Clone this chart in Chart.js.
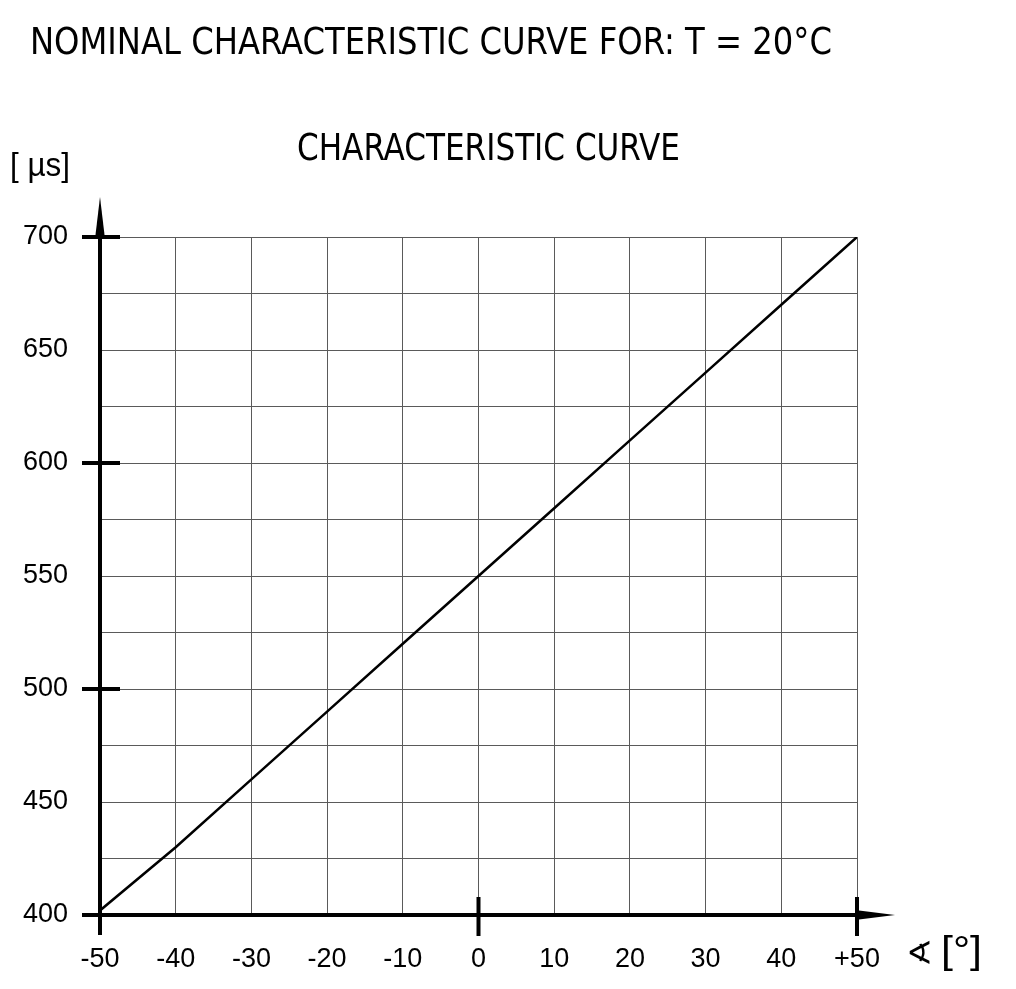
<!DOCTYPE html>
<html lang="en">
<head>
  <meta charset="UTF-8">
  <title>Nominal characteristic curve</title>
  <script src="https://cdn.jsdelivr.net/npm/chart.js"></script>
  <style>
    body { margin: 0; background: #fff; }
    canvas { display: block; }
  </style>
</head>
<body>
  <canvas id="grafico" width="1016" height="989"></canvas>

  <script>
    // angle [°] -> time [µs]
    const angles = [-50, -40, -30, -20, -10, 0, 10, 20, 30, 40, 50];
    const times  = [402, 430, 460, 490, 520, 550, 580, 610, 640, 670, 700];

    const titleText = 'NOMINAL CHARACTERISTIC CURVE FOR: T = 20°C';
    const subTitleText = 'CHARACTERISTIC CURVE';
    const yUnit = '[ µs]';
    const xUnit = '∢ [°]';
    const yMajor = [700, 600, 500];
    const xMajor = [0, 50];

    const narrow = '"Liberation Sans Narrow", "DejaVu Sans Condensed", sans-serif';
    const sans = '"Liberation Sans", Arial, sans-serif';

    // draws text squeezed to a given width
    function fitText(ctx, text, x, y, w, font) {
      ctx.save();
      ctx.font = font;
      const real = ctx.measureText(text).width;
      ctx.translate(x, y);
      ctx.scale(w / real, 1);
      ctx.fillText(text, 0, 0);
      ctx.restore();
    }

    const axesPlugin = {
      id: 'ejes',
      afterDraw(chart) {
        const { ctx, scales: { x, y } } = chart;
        const x0 = x.getPixelForValue(-50), x1 = x.getPixelForValue(50);
        const y0 = y.getPixelForValue(400), y1 = y.getPixelForValue(700);
        ctx.save();
        ctx.strokeStyle = '#000';
        ctx.fillStyle = '#000';
        ctx.lineWidth = 4;
        ctx.lineCap = 'butt';

        // y axis + arrow
        ctx.beginPath();
        ctx.moveTo(x0, y0 + 20);
        ctx.lineTo(x0, y1);
        ctx.stroke();
        ctx.beginPath();
        ctx.moveTo(x0, y1 - 40);
        ctx.lineTo(x0 + 5, y1 + 2);
        ctx.lineTo(x0 - 5, y1 + 2);
        ctx.closePath();
        ctx.fill();

        // x axis + arrow
        ctx.beginPath();
        ctx.moveTo(x0 - 18, y0);
        ctx.lineTo(x1, y0);
        ctx.stroke();
        ctx.beginPath();
        ctx.moveTo(x1 + 38, y0);
        ctx.lineTo(x1 - 2, y0 - 5);
        ctx.lineTo(x1 - 2, y0 + 5);
        ctx.closePath();
        ctx.fill();

        // major ticks
        yMajor.forEach(v => {
          const p = y.getPixelForValue(v);
          ctx.beginPath();
          ctx.moveTo(x0 - 18, p);
          ctx.lineTo(x0 + 20, p);
          ctx.stroke();
        });
        xMajor.forEach(v => {
          const p = x.getPixelForValue(v);
          ctx.beginPath();
          ctx.moveTo(p, y0 - 18);
          ctx.lineTo(p, y0 + 21);
          ctx.stroke();
        });

        // texts
        ctx.textBaseline = 'middle';
        ctx.textAlign = 'left';
        fitText(ctx, titleText, 30, 44, 802, '38px ' + narrow);
        fitText(ctx, subTitleText, 297, 150, 383, '37px ' + narrow);
        fitText(ctx, yUnit, 10, 167, 60, '34px ' + sans);
        ctx.font = '32px "DejaVu Sans ExtraLight", "DejaVu Sans", sans-serif';
        ctx.fillText(xUnit.split(' ')[0], 906, 956);
        fitText(ctx, xUnit.split(' ')[1], 941, 953, 41, '38px ' + sans);
        ctx.restore();
      }
    };

    new Chart(document.getElementById('grafico'), {
      type: 'scatter',
      data: {
        datasets: [{
          data: angles.map((a, i) => ({ x: a, y: times[i] })),
          showLine: true,
          borderColor: '#000',
          borderWidth: 2.5,
          pointRadius: 0,
          fill: false
        }]
      },
      options: {
        responsive: false,
        devicePixelRatio: 1,
        animation: false,
        layout: { padding: { top: 237, right: 159, left: 0, bottom: 0 } },
        plugins: { legend: { display: false }, tooltip: { enabled: false } },
        scales: {
          x: {
            type: 'linear', min: -50, max: 50,
            afterFit: s => { s.height = 74; },
            border: { display: false },
            grid: { color: '#5a5a5a', lineWidth: 1, drawTicks: false },
            ticks: {
              stepSize: 10, padding: 28, color: '#000',
              font: { size: 27, family: sans },
              callback: v => v === 50 ? '+50' : String(v)
            }
          },
          y: {
            min: 400, max: 700,
            afterFit: s => { s.width = 100; },
            border: { display: false },
            grid: { color: '#5a5a5a', lineWidth: 1, drawTicks: false },
            ticks: {
              stepSize: 25, padding: 32, color: '#000',
              font: { size: 27, family: sans },
              callback: v => v % 50 === 0 ? String(v) : ''
            }
          }
        }
      },
      plugins: [axesPlugin]
    });
  </script>
</body>
</html>
